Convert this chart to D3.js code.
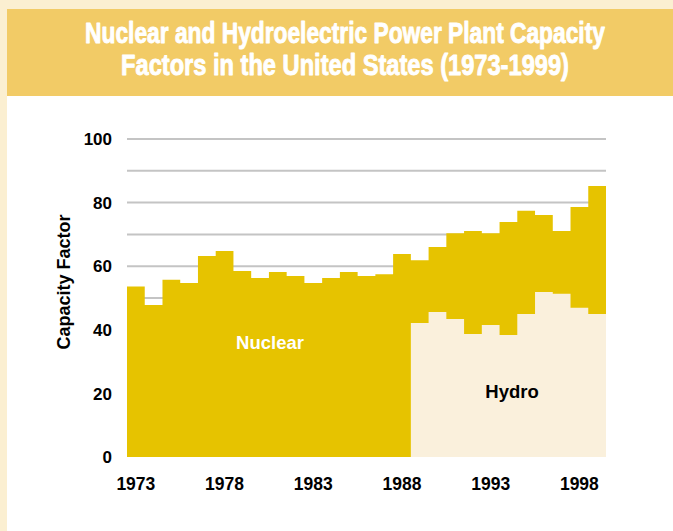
<!DOCTYPE html>
<html><head><meta charset="utf-8">
<script src="https://cdn.jsdelivr.net/npm/d3@7"></script>
<style>body{margin:0;padding:0;}svg{display:block;}</style>
</head><body>
<svg id="c" width="673" height="531"></svg>
<script>
const years = d3.range(1973, 2000);
const nuclear = [53.6,47.8,55.7,54.7,63.2,64.8,58.5,56.3,58.2,56.9,54.7,56.3,58.2,56.9,57.5,63.8,61.9,66.0,70.4,71.1,70.4,73.9,77.4,76.1,71.1,78.6,85.2];
const hydroYears = d3.range(1989, 2000);
const hydro = [42.1,45.6,43.4,38.7,41.5,38.4,45.0,51.9,51.3,46.9,45.0];
const yTicks = [0,20,40,60,80,100];
const gridValues = d3.range(10, 101, 10);
const xTickYears = [1973,1978,1983,1988,1993,1998];
const titleLines = ["Nuclear and Hydroelectric Power Plant Capacity","Factors in the United States (1973-1999)"];

const svg = d3.select("#c");
svg.append("rect").attr("width",673).attr("height",531).attr("fill","#FBEFD1");
svg.append("rect").attr("x",7).attr("y",9).attr("width",666).attr("height",522).attr("fill","#FFFFFF");
svg.append("rect").attr("x",7).attr("y",9).attr("width",666).attr("height",87).attr("fill","#F2CB66");

const tl = [[43,520],[75,448]];
titleLines.forEach((t,i)=>{
  const gt = svg.append("g").attr("transform",`translate(345,${tl[i][0]})`);
  const txt = gt.append("text").attr("x",0).attr("y",0).attr("text-anchor","middle")
    .attr("font-family","'Liberation Sans',Arial,sans-serif")
    .attr("font-weight","bold").attr("font-size",28).attr("fill","#FFFFFF")
    .attr("stroke","#FFFFFF").attr("stroke-width",0.9).attr("stroke-linejoin","round").text(t);
  const w = txt.node().getComputedTextLength();
  txt.attr("transform",`scale(${tl[i][1]/w},1.04)`);
});

const x = d3.scaleBand().domain(years).range([127,606]).padding(0);
const y = d3.scaleLinear().domain([0,100]).range([457,139]);

const g = svg.append("g");
g.selectAll("line.grid").data(gridValues).join("line")
  .attr("x1",127).attr("x2",606).attr("y1",d=>y(d)).attr("y2",d=>y(d))
  .attr("stroke","#C4C4C4").attr("stroke-width",2);

function stepData(ys, vals){
  const pts = ys.map((yr,i)=>({x:x(yr), v:vals[i]}));
  const last = ys[ys.length-1];
  pts.push({x:x(last)+x.bandwidth(), v:vals[vals.length-1]});
  return pts;
}
const area = d3.area().curve(d3.curveStepAfter).x(d=>d.x).y0(y(0)).y1(d=>y(d.v));
g.append("path").datum(stepData(years,nuclear)).attr("d",area).attr("fill","#E6C300");
g.append("path").datum(stepData(hydroYears,hydro)).attr("d",area).attr("fill","#FAF0DC");

const font = "'Liberation Sans',Arial,sans-serif";
g.selectAll("text.yt").data(yTicks).join("text")
  .attr("x",112).attr("y",d=>y(d)).attr("dy","0.36em").attr("text-anchor","end")
  .attr("font-family",font).attr("font-weight","bold").attr("font-size",17).attr("fill","#000")
  .text(d=>d);
g.selectAll("text.xt").data(xTickYears).join("text")
  .attr("x",d=>x(d)+x.bandwidth()/2).attr("y",490).attr("text-anchor","middle")
  .attr("font-family",font).attr("font-weight","bold").attr("font-size",17.5).attr("fill","#000")
  .text(d=>d);

svg.append("text").attr("transform","translate(70,282) rotate(-90)").attr("text-anchor","middle")
  .attr("font-family",font).attr("font-weight","bold").attr("font-size",18).attr("fill","#000")
  .text("Capacity Factor");

svg.append("text").attr("x",270).attr("y",349).attr("text-anchor","middle")
  .attr("font-family",font).attr("font-weight","bold").attr("font-size",18.5).attr("fill","#FFFFFF")
  .text("Nuclear");
svg.append("text").attr("x",512).attr("y",398).attr("text-anchor","middle")
  .attr("font-family",font).attr("font-weight","bold").attr("font-size",18.5).attr("fill","#000")
  .text("Hydro");
</script>
</body></html>
